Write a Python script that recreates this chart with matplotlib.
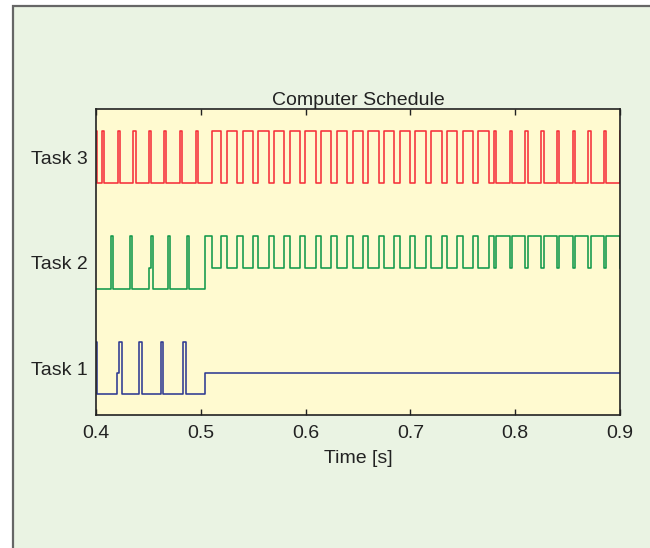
import matplotlib
matplotlib.use("Agg")
import matplotlib.pyplot as plt
from matplotlib.patches import Rectangle

plt.rcParams['font.family'] = ['Liberation Sans', 'DejaVu Sans']

# task names and x ticks
tasks = ["Task 1", "Task 2", "Task 3"]
xticks = [0.4, 0.5, 0.6, 0.7, 0.8, 0.9]

# Task 3 (red): running intervals
task3_run = [(0.4000, 0.4007),
             (0.4057, 0.4077), (0.4207, 0.4227), (0.4357, 0.4378), (0.4502, 0.4523),
             (0.4652, 0.4672), (0.4803, 0.4822), (0.4955, 0.4977),
             (0.5105, 0.5197), (0.5248, 0.5347), (0.5398, 0.5497), (0.5548, 0.5647),
             (0.5698, 0.5797), (0.5848, 0.5947), (0.5998, 0.6097), (0.6148, 0.6247),
             (0.6298, 0.6397), (0.6448, 0.6547), (0.6598, 0.6697), (0.6748, 0.6847),
             (0.6898, 0.6997), (0.7048, 0.7147), (0.7198, 0.7297), (0.7348, 0.7447),
             (0.7498, 0.7597), (0.7648, 0.7747),
             (0.7798, 0.7820), (0.7948, 0.7970), (0.8098, 0.8120), (0.8248, 0.8271),
             (0.8398, 0.8420), (0.8548, 0.8571), (0.8698, 0.8720), (0.8848, 0.8871),
             (0.8997, 0.9000)]
task3_wait = []

# Task 2 (green)
task2_run = [(0.4140, 0.4160), (0.4325, 0.4344), (0.4522, 0.4542), (0.4685, 0.4704),
             (0.4866, 0.4885), (0.5041, 0.5105),
             (0.5197, 0.5248), (0.5347, 0.5398), (0.5497, 0.5548), (0.5647, 0.5698),
             (0.5797, 0.5848), (0.5947, 0.5998), (0.6097, 0.6148), (0.6247, 0.6298),
             (0.6397, 0.6448), (0.6547, 0.6598), (0.6697, 0.6748), (0.6847, 0.6898),
             (0.6997, 0.7048), (0.7147, 0.7198), (0.7297, 0.7348), (0.7447, 0.7498),
             (0.7597, 0.7648), (0.7747, 0.7798),
             (0.7820, 0.7948), (0.7970, 0.8098), (0.8120, 0.8248), (0.8271, 0.8398),
             (0.8420, 0.8548), (0.8571, 0.8698), (0.8720, 0.8848), (0.8871, 0.8997)]
# waits while task 3 runs after 0.51
task2_wait = [(0.4503, 0.4522)] + [iv for iv in task3_run if iv[0] > 0.51]

# Task 1 (blue)
task1_run = [(0.4000, 0.4007), (0.4223, 0.4245), (0.4414, 0.4436),
             (0.4621, 0.4643), (0.4831, 0.4857)]
task1_wait = [(0.4203, 0.4223), (0.5041, 0.9000)]

colors = ["#2e3a92", "#12994a", "#f5303a"]
offs = {0: -0.248, 1: -0.048, 2: 0.248}


def steps(run, wait, t0=0.4, t1=0.9):
    b = sorted(set([t0, t1] + [a for iv in run + wait for a in iv]))
    st = []
    for a, c in zip(b[:-1], b[1:]):
        m = (a + c) / 2
        if any(r0 <= m <= r1 for r0, r1 in run):
            st.append(2)
        elif any(w0 <= m <= w1 for w0, w1 in wait):
            st.append(1)
        else:
            st.append(0)
    st.append(st[-1])
    return b, st


fig = plt.figure(figsize=(6.5, 5.48), dpi=100, facecolor="white")
fig.patches.append(Rectangle((12.5 / 650, -0.1), 1.2, 1 - 6 / 548 + 0.1,
                             transform=fig.transFigure, facecolor="#eaf3e3",
                             edgecolor="#666666", lw=1.6, zorder=-10))

ax = fig.add_axes([96 / 650, 1 - 415 / 548, 524 / 650, 306 / 548])
ax.set_zorder(5)
ax.set_facecolor("#fffad0")

data = [(task1_run, task1_wait), (task2_run, task2_wait), (task3_run, task3_wait)]
for i, (run, wait) in enumerate(data):
    xs, st = steps(run, wait)
    ys = [i + 1 + offs[s] for s in st]
    ax.plot(xs, ys, drawstyle="steps-post", color=colors[i], lw=1.15)

ax.set_xlim(0.4, 0.9)
ax.set_ylim(0.555, 3.455)
ax.set_xticks(xticks)
ax.set_xticklabels([f"{v:.1f}" for v in xticks])
ax.set_yticks([1, 2, 3])
ax.set_yticklabels(tasks)
ax.tick_params(axis="x", direction="in", length=4, width=1, top=True,
               labelsize=14, pad=7, colors="#222222")
ax.tick_params(axis="y", length=0, labelsize=14, pad=6, colors="#222222")
for s in ax.spines.values():
    s.set_color("#222222")
    s.set_linewidth(1.2)
ax.set_xlabel("Time [s]", fontsize=14, color="#222222", labelpad=6)
ax.set_title("Computer Schedule", fontsize=14, color="#222222", pad=3)

fig.savefig("out.png", dpi=100, facecolor=fig.get_facecolor())
